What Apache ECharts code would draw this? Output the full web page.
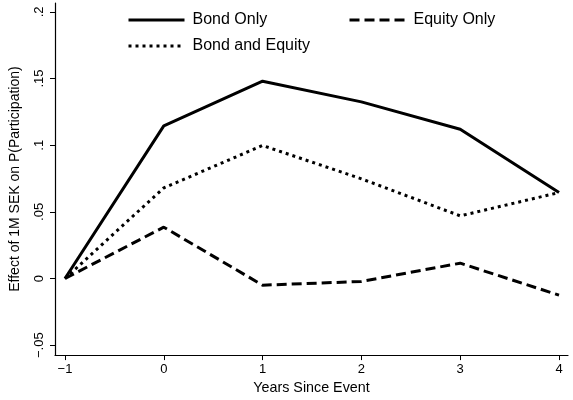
<!DOCTYPE html>
<html>
<head>
<meta charset="utf-8">
<script src="https://cdn.jsdelivr.net/npm/echarts@6/dist/echarts.min.js"></script>
<style>
  html, body { margin: 0; padding: 0; background: #fff; }
  #chart { width: 573px; height: 400px; }
</style>
</head>
<body>
<div id="chart"></div>
<script>
// Years relative to the event
const years = [-1, 0, 1, 2, 3, 4];

// Estimated effect of 1M SEK on participation probability
const bondOnly = [0, 0.1145, 0.148, 0.1325, 0.112, 0.0645];
const equityOnly = [0, 0.0385, -0.005, -0.0022, 0.0115, -0.0125];
const bondAndEquity = [0, 0.068, 0.0998, 0.0748, 0.047, 0.0645];

// Axis ticks and their printed labels
const xTicks = [-1, 0, 1, 2, 3, 4];
const xTickLabels = ['\u22121', '0', '1', '2', '3', '4'];
const yTicks = [-0.05, 0, 0.05, 0.1, 0.15, 0.2];
const yTickLabels = ['\u2212.05', '0', '.05', '.1', '.15', '.2'];

function lookup(ticks, labels) {
  return function (v) {
    for (let i = 0; i < ticks.length; i++) {
      if (Math.abs(v - ticks[i]) < 1e-9) return labels[i];
    }
    return '';
  };
}

function pairs(vals) {
  return years.map((y, i) => [y, vals[i]]);
}

const FONT = 'Liberation Sans, Arial, Helvetica, sans-serif';
const LW = 3;

const chart = echarts.init(document.getElementById('chart'), null, { renderer: 'canvas' });

// Legend keys: line sample only, no marker
const legendBase = {
  orient: 'horizontal',
  padding: 0,
  itemWidth: 56,
  itemHeight: 12,
  itemGap: 0,
  selectedMode: false,
  itemStyle: { color: 'rgba(0,0,0,0)', borderWidth: 0, opacity: 0 },
  lineStyle: { width: LW },
  textStyle: { fontFamily: FONT, fontSize: 16, color: '#000', padding: [0, 0, 0, 3] }
};

chart.setOption({
  animation: false,
  backgroundColor: '#fff',
  grid: { left: 54, right: 5, top: 3, bottom: 43, containLabel: false },
  legend: [
    Object.assign({}, legendBase, { left: 127, top: 12, data: ['Bond Only'] }),
    Object.assign({}, legendBase, { left: 348, top: 12, data: ['Equity Only'] }),
    Object.assign({}, legendBase, { left: 127, top: 38, data: ['Bond and Equity'] })
  ],
  xAxis: {
    type: 'value',
    min: -1.101,
    max: 4.091,
    name: 'Years Since Event',
    nameLocation: 'middle',
    nameGap: 24,
    nameTextStyle: { fontFamily: FONT, fontSize: 14.3, color: '#000' },
    axisLine: { show: true, onZero: false, lineStyle: { color: '#000', width: 1.2 } },
    axisTick: { show: true, length: 5, customValues: xTicks, lineStyle: { color: '#000', width: 1 } },
    axisLabel: {
      customValues: xTicks,
      formatter: lookup(xTicks, xTickLabels),
      margin: 8,
      fontFamily: FONT, fontSize: 13, color: '#000'
    },
    splitLine: { show: false }
  },
  yAxis: {
    type: 'value',
    min: -0.05746,
    max: 0.2067,
    name: 'Effect of 1M SEK on P(Participation)',
    nameLocation: 'middle',
    nameGap: 33,
    nameRotate: 90,
    nameTextStyle: { fontFamily: FONT, fontSize: 14, color: '#000' },
    axisLine: { show: true, onZero: false, lineStyle: { color: '#000', width: 1.2 } },
    axisTick: { show: true, length: 5, customValues: yTicks, lineStyle: { color: '#000', width: 1 } },
    axisLabel: {
      customValues: yTicks,
      formatter: lookup(yTicks, yTickLabels),
      rotate: 90,
      margin: 9,
      fontFamily: FONT, fontSize: 13, color: '#000'
    },
    splitLine: { show: false }
  },
  series: [
    {
      name: 'Bond Only', type: 'line', data: pairs(bondOnly),
      symbol: 'none', color: '#000',
      lineStyle: { color: '#000', width: LW, type: 'solid' }
    },
    {
      name: 'Equity Only', type: 'line', data: pairs(equityOnly),
      symbol: 'none', color: '#000',
      lineStyle: { color: '#000', width: LW, type: [10, 5] }
    },
    {
      name: 'Bond and Equity', type: 'line', data: pairs(bondAndEquity),
      symbol: 'none', color: '#000',
      lineStyle: { color: '#000', width: LW, type: [3, 4] }
    }
  ]
});
</script>
</body>
</html>
